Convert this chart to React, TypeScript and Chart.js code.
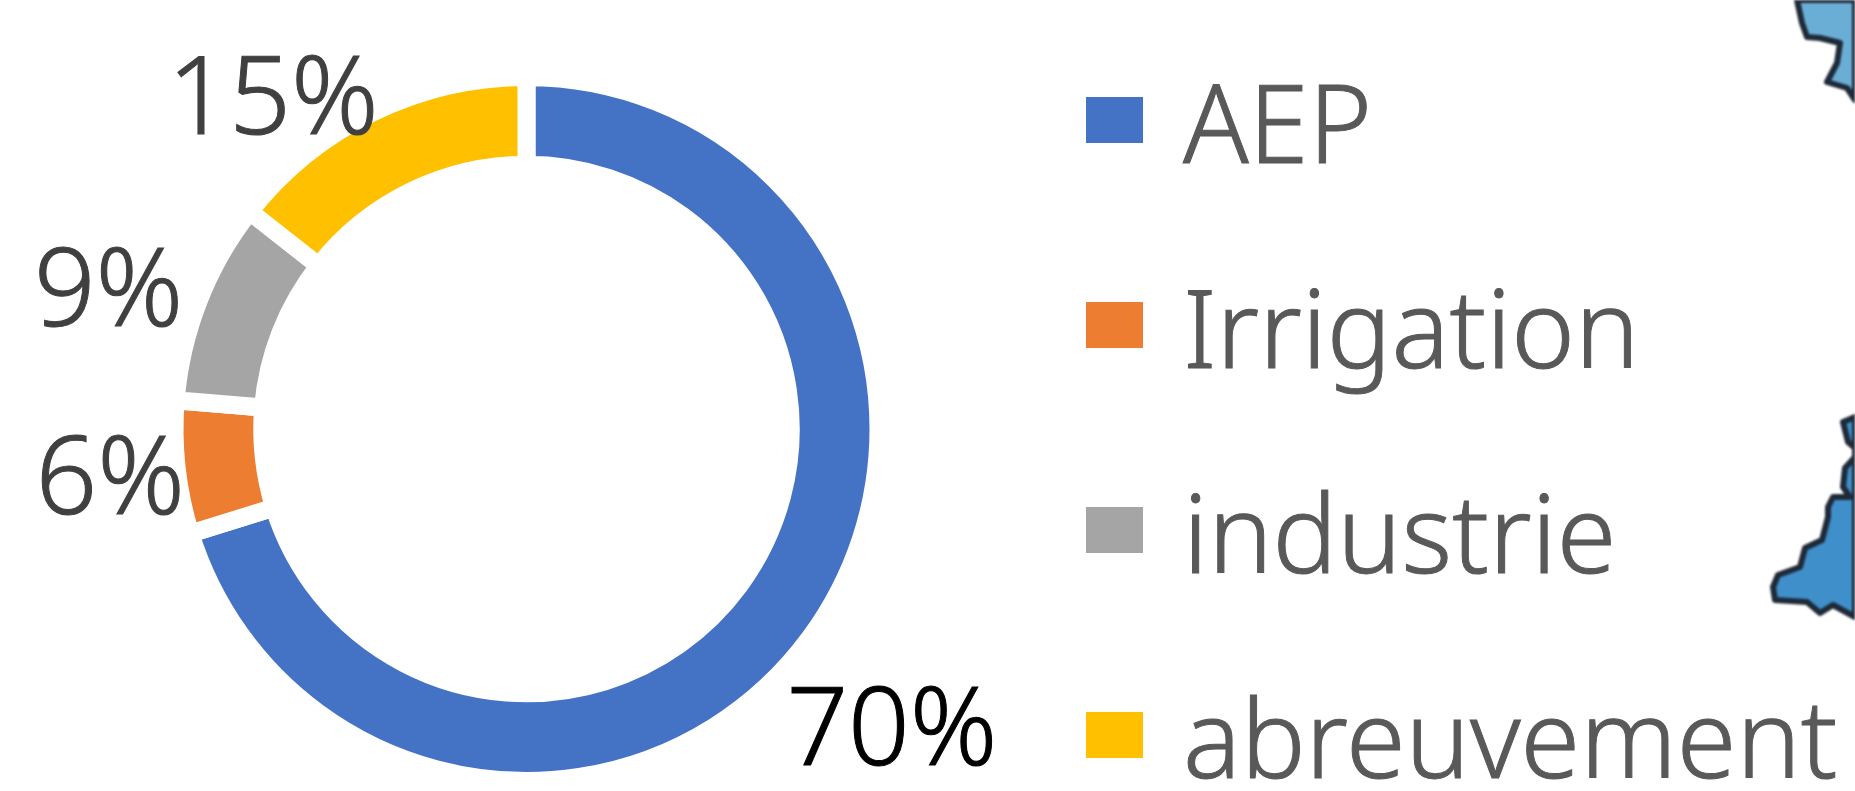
import React, { useEffect, useRef } from "react";
import { Chart, registerables } from "chart.js";

Chart.register(...registerables);

const categories = ["AEP", "Irrigation", "industrie", "abreuvement"];
const shares = [70.2, 6.1, 9.3, 14.4];
const shareTexts = ["70%", "6%", "9%", "15%"];
const colors = ["#4472C4", "#ED7D31", "#A5A5A5", "#FFC000"];
const labelColors = ["#000000", "#404040", "#404040", "#404040"];
const labelRadius = [472, 419, 441, 418];
const labelAngleShift = [2.9, -0.2, -2.8, -11.4];

const FONT = '"Noto Sans", "Open Sans", sans-serif';

const shareLabels = {
  id: "shareLabels",
  afterDatasetsDraw(chart: any) {
    const ctx = chart.ctx;
    const arcs = chart.getDatasetMeta(0).data;
    ctx.save();
    ctx.font = `300 108px ${FONT}`;
    ctx.textAlign = "center";
    ctx.textBaseline = "middle";
    ctx.lineWidth = 1;
    arcs.forEach((arc: any, i: number) => {
      const mid = (arc.startAngle + arc.endAngle) / 2 + (labelAngleShift[i] * Math.PI) / 180;
      const x = arc.x + Math.cos(mid) * labelRadius[i];
      const y = arc.y + Math.sin(mid) * labelRadius[i] + 7;
      ctx.fillStyle = labelColors[i];
      ctx.strokeStyle = labelColors[i];
      ctx.fillText(shareTexts[i], x, y);
      ctx.strokeText(shareTexts[i], x, y);
    });
    ctx.restore();
  },
};

export default function App() {
  const canvasRef = useRef<HTMLCanvasElement>(null);

  useEffect(() => {
    const chart = new Chart(canvasRef.current as HTMLCanvasElement, {
      type: "doughnut",
      data: {
        labels: categories,
        datasets: [
          {
            data: shares,
            backgroundColor: colors,
            borderColor: "#FFFFFF",
            borderWidth: 18,
            borderJoinStyle: "miter",
          },
        ],
      },
      options: {
        responsive: false,
        animation: false,
        radius: 352,
        cutout: 265,
        layout: { padding: { top: 67, right: 802, bottom: 0, left: 0 } },
        plugins: { legend: { display: false }, tooltip: { enabled: false } },
      },
      plugins: [shareLabels],
    } as any);
    return () => chart.destroy();
  }, []);

  return (
    <div style={{ position: "fixed", left: 0, top: 0, width: 1855, height: 791, overflow: "hidden", background: "#fff" }}>
      <canvas ref={canvasRef} width={1855} height={791} style={{ position: "absolute", left: 0, top: 0 }} />
      {categories.map((name, i) => (
        <div key={name}>
          <div
            style={{
              position: "absolute",
              left: 1086,
              top: 97 + i * 205,
              width: 57,
              height: 46,
              background: colors[i],
            }}
          />
          <div
            style={{
              position: "absolute",
              left: 1183,
              top: 122 + i * 205 - 80,
              height: 160,
              lineHeight: "160px",
              fontFamily: FONT,
              fontWeight: 300,
              fontSize: 108,
              color: "#595959",
              WebkitTextStroke: "1px #595959",
              whiteSpace: "nowrap",
            }}
          >
            {name}
          </div>
        </div>
      ))}
      <svg width={1855} height={791} style={{ position: "absolute", left: 0, top: 0, filter: "blur(0.8px)" }}>
        <path
          d="M1797 0 L1802 23 L1807 37 L1820 38 L1840 43 L1837 63 L1827 82 L1847 88 L1855 100 L1855 0 Z"
          fill="#6AAED6"
          stroke="#1F2A38"
          strokeWidth={6}
          strokeLinejoin="round"
        />
        <path
          d="M1855 417 L1843 422 L1848 442 L1855 448 L1855 457 L1845 468 L1843 487 L1850 497 L1833 497 L1828 507 L1828 517 L1822 540 L1805 548 L1800 567 L1778 575 L1773 587 L1775 600 L1807 602 L1820 613 L1833 605 L1855 617 Z"
          fill="#3F8FCB"
          stroke="#1F2A38"
          strokeWidth={6}
          strokeLinejoin="round"
        />
      </svg>
    </div>
  );
}
